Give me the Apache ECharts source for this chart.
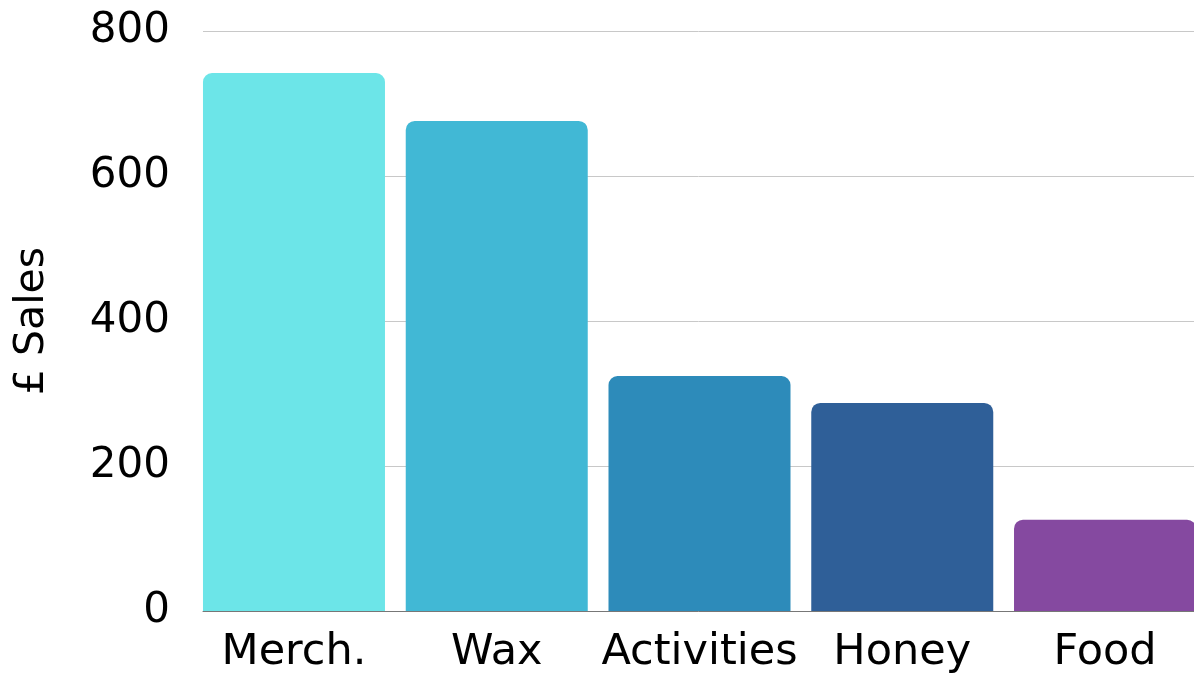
<!DOCTYPE html>
<html>
<head>
<meta charset="utf-8">
<script src="https://cdn.jsdelivr.net/npm/echarts@6/dist/echarts.min.js"></script>
<style>
  html, body { margin: 0; padding: 0; background: #fff; }
  #main { width: 1194px; height: 675px; }
</style>
</head>
<body>
<div id="main"></div>
<script>
var categories = ['Merch.', 'Wax', 'Activities', 'Honey', 'Food'];
var sales = [742, 676, 324, 287, 126];
var barColors = ['#6ce5e8', '#41b8d5', '#2d8bba', '#2f5f98', '#8549a0'];
var yTicks = [0, 200, 400, 600, 800];

var font = 'DejaVu Sans';
var myChart = echarts.init(document.getElementById('main'));

var option = {
  animation: false,
  grid: [
    // axes / gridlines
    { left: 203, right: 0, top: 31, bottom: 64, outerBoundsMode: 'none' },
    // bars, shifted so the last bar runs off the right edge
    { left: 192.6, width: 1013.8, top: 31, bottom: 64, outerBoundsMode: 'none' }
  ],
  xAxis: [{
    gridIndex: 0,
    type: 'category',
    data: categories,
    axisLine: { show: true, lineStyle: { color: '#777', width: 1 } },
    axisTick: { show: false },
    axisLabel: { show: false }
  }, {
    gridIndex: 1,
    type: 'category',
    data: categories,
    axisLine: { show: false },
    axisTick: { show: false },
    axisLabel: { color: '#000', fontFamily: font, fontSize: 43, margin: 20, interval: 0 }
  }],
  yAxis: [{
    gridIndex: 0,
    type: 'value',
    min: yTicks[0],
    max: yTicks[yTicks.length - 1],
    interval: 200,
    name: '£ Sales',
    nameLocation: 'middle',
    nameRotate: 90,
    nameGap: 150,
    nameTextStyle: { color: '#000', fontFamily: font, fontSize: 41 },
    axisLine: { show: false },
    axisTick: { show: false },
    axisLabel: { color: '#000', fontFamily: font, fontSize: 42, margin: 33 },
    splitLine: { lineStyle: { color: '#c8c8c8', width: 1 } }
  }, {
    gridIndex: 1,
    type: 'value',
    min: yTicks[0],
    max: yTicks[yTicks.length - 1],
    interval: 200,
    show: false,
    splitLine: { show: false }
  }],
  series: [{
    type: 'bar',
    xAxisIndex: 1,
    yAxisIndex: 1,
    barWidth: 182,
    data: sales.map(function (v, i) {
      return { value: v, itemStyle: { color: barColors[i] } };
    }),
    itemStyle: { borderRadius: [9, 9, 0, 0] }
  }]
};
myChart.setOption(option);
</script>
</body>
</html>
